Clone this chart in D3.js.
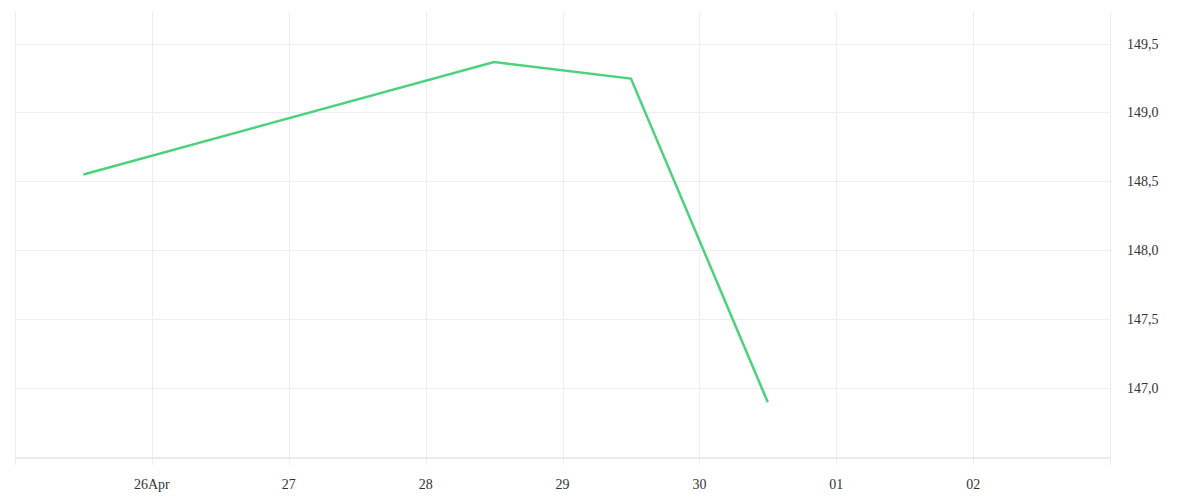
<!DOCTYPE html>
<html><head><meta charset="utf-8">
<script src="https://cdn.jsdelivr.net/npm/d3@7"></script>
<style>
html,body{margin:0;padding:0;background:#fff;}
svg text{font-family:"Liberation Serif","Times New Roman",serif;font-size:14px;fill:#333;}
</style></head>
<body><svg id="c" width="1200" height="500"></svg>
<script>
const dates = ["2025-04-25T12:00","2025-04-28T12:00","2025-04-29T12:00","2025-04-30T12:00"];
const values = [148.55, 149.366, 149.246, 146.895];
const yTicks = [147.0, 147.5, 148.0, 148.5, 149.0, 149.5];
const xTickDates = ["2025-04-26","2025-04-27","2025-04-28","2025-04-29","2025-04-30","2025-05-01","2025-05-02"];
const xTickLabels = ["26Apr","27","28","29","30","01","02"];

const parse = d3.timeParse("%Y-%m-%dT%H:%M");
const parseDay = d3.timeParse("%Y-%m-%d");
const data = dates.map((d,i)=>({t:parse(d), v:values[i]}));

const L=15, R=1110, T=12, B=458;
const svg = d3.select("#c");
const x = d3.scaleTime().domain([parseDay("2025-04-25"), parseDay("2025-05-03")]).range([L,R]);
const y = d3.scaleLinear().domain([146.49, 149.73]).range([B,T]);

const grid = svg.append("g");
// horizontal gridlines
grid.selectAll("line.h").data(yTicks).enter().append("line")
  .attr("x1",L).attr("x2",R).attr("y1",d=>Math.round(y(d))+0.5).attr("y2",d=>Math.round(y(d))+0.5)
  .attr("stroke","#eeeeee").attr("stroke-width",1);
// vertical gridlines
const xt = xTickDates.map(parseDay);
grid.selectAll("line.v").data(xt).enter().append("line")
  .attr("x1",d=>Math.round(x(d))+0.5).attr("x2",d=>Math.round(x(d))+0.5).attr("y1",T).attr("y2",B+7)
  .attr("stroke","#eeeeee").attr("stroke-width",1);
// borders
grid.append("line").attr("x1",L+0.5).attr("x2",L+0.5).attr("y1",T).attr("y2",B+7).attr("stroke","#eeeeee");
grid.append("line").attr("x1",R+0.5).attr("x2",R+0.5).attr("y1",T).attr("y2",B+7).attr("stroke","#eeeeee");
grid.append("line").attr("x1",L).attr("x2",R).attr("y1",B).attr("y2",B).attr("stroke","#eaeaea").attr("stroke-width",2);

// x labels
svg.append("g").selectAll("text").data(xt).enter().append("text")
  .attr("x",d=>x(d)).attr("y",489).attr("text-anchor","middle")
  .text((d,i)=>xTickLabels[i]);
// y labels
svg.append("g").selectAll("text").data(yTicks).enter().append("text")
  .attr("x",1127).attr("y",d=>y(d)+5).attr("text-anchor","start")
  .text(d=>d3.format(".1f")(d).replace(".",","));

// line
svg.append("path").datum(data)
  .attr("d", d3.line().x(d=>x(d.t)).y(d=>y(d.v)))
  .attr("fill","none").attr("stroke","#4cd27c").attr("stroke-width",2.5);
</script></body></html>
